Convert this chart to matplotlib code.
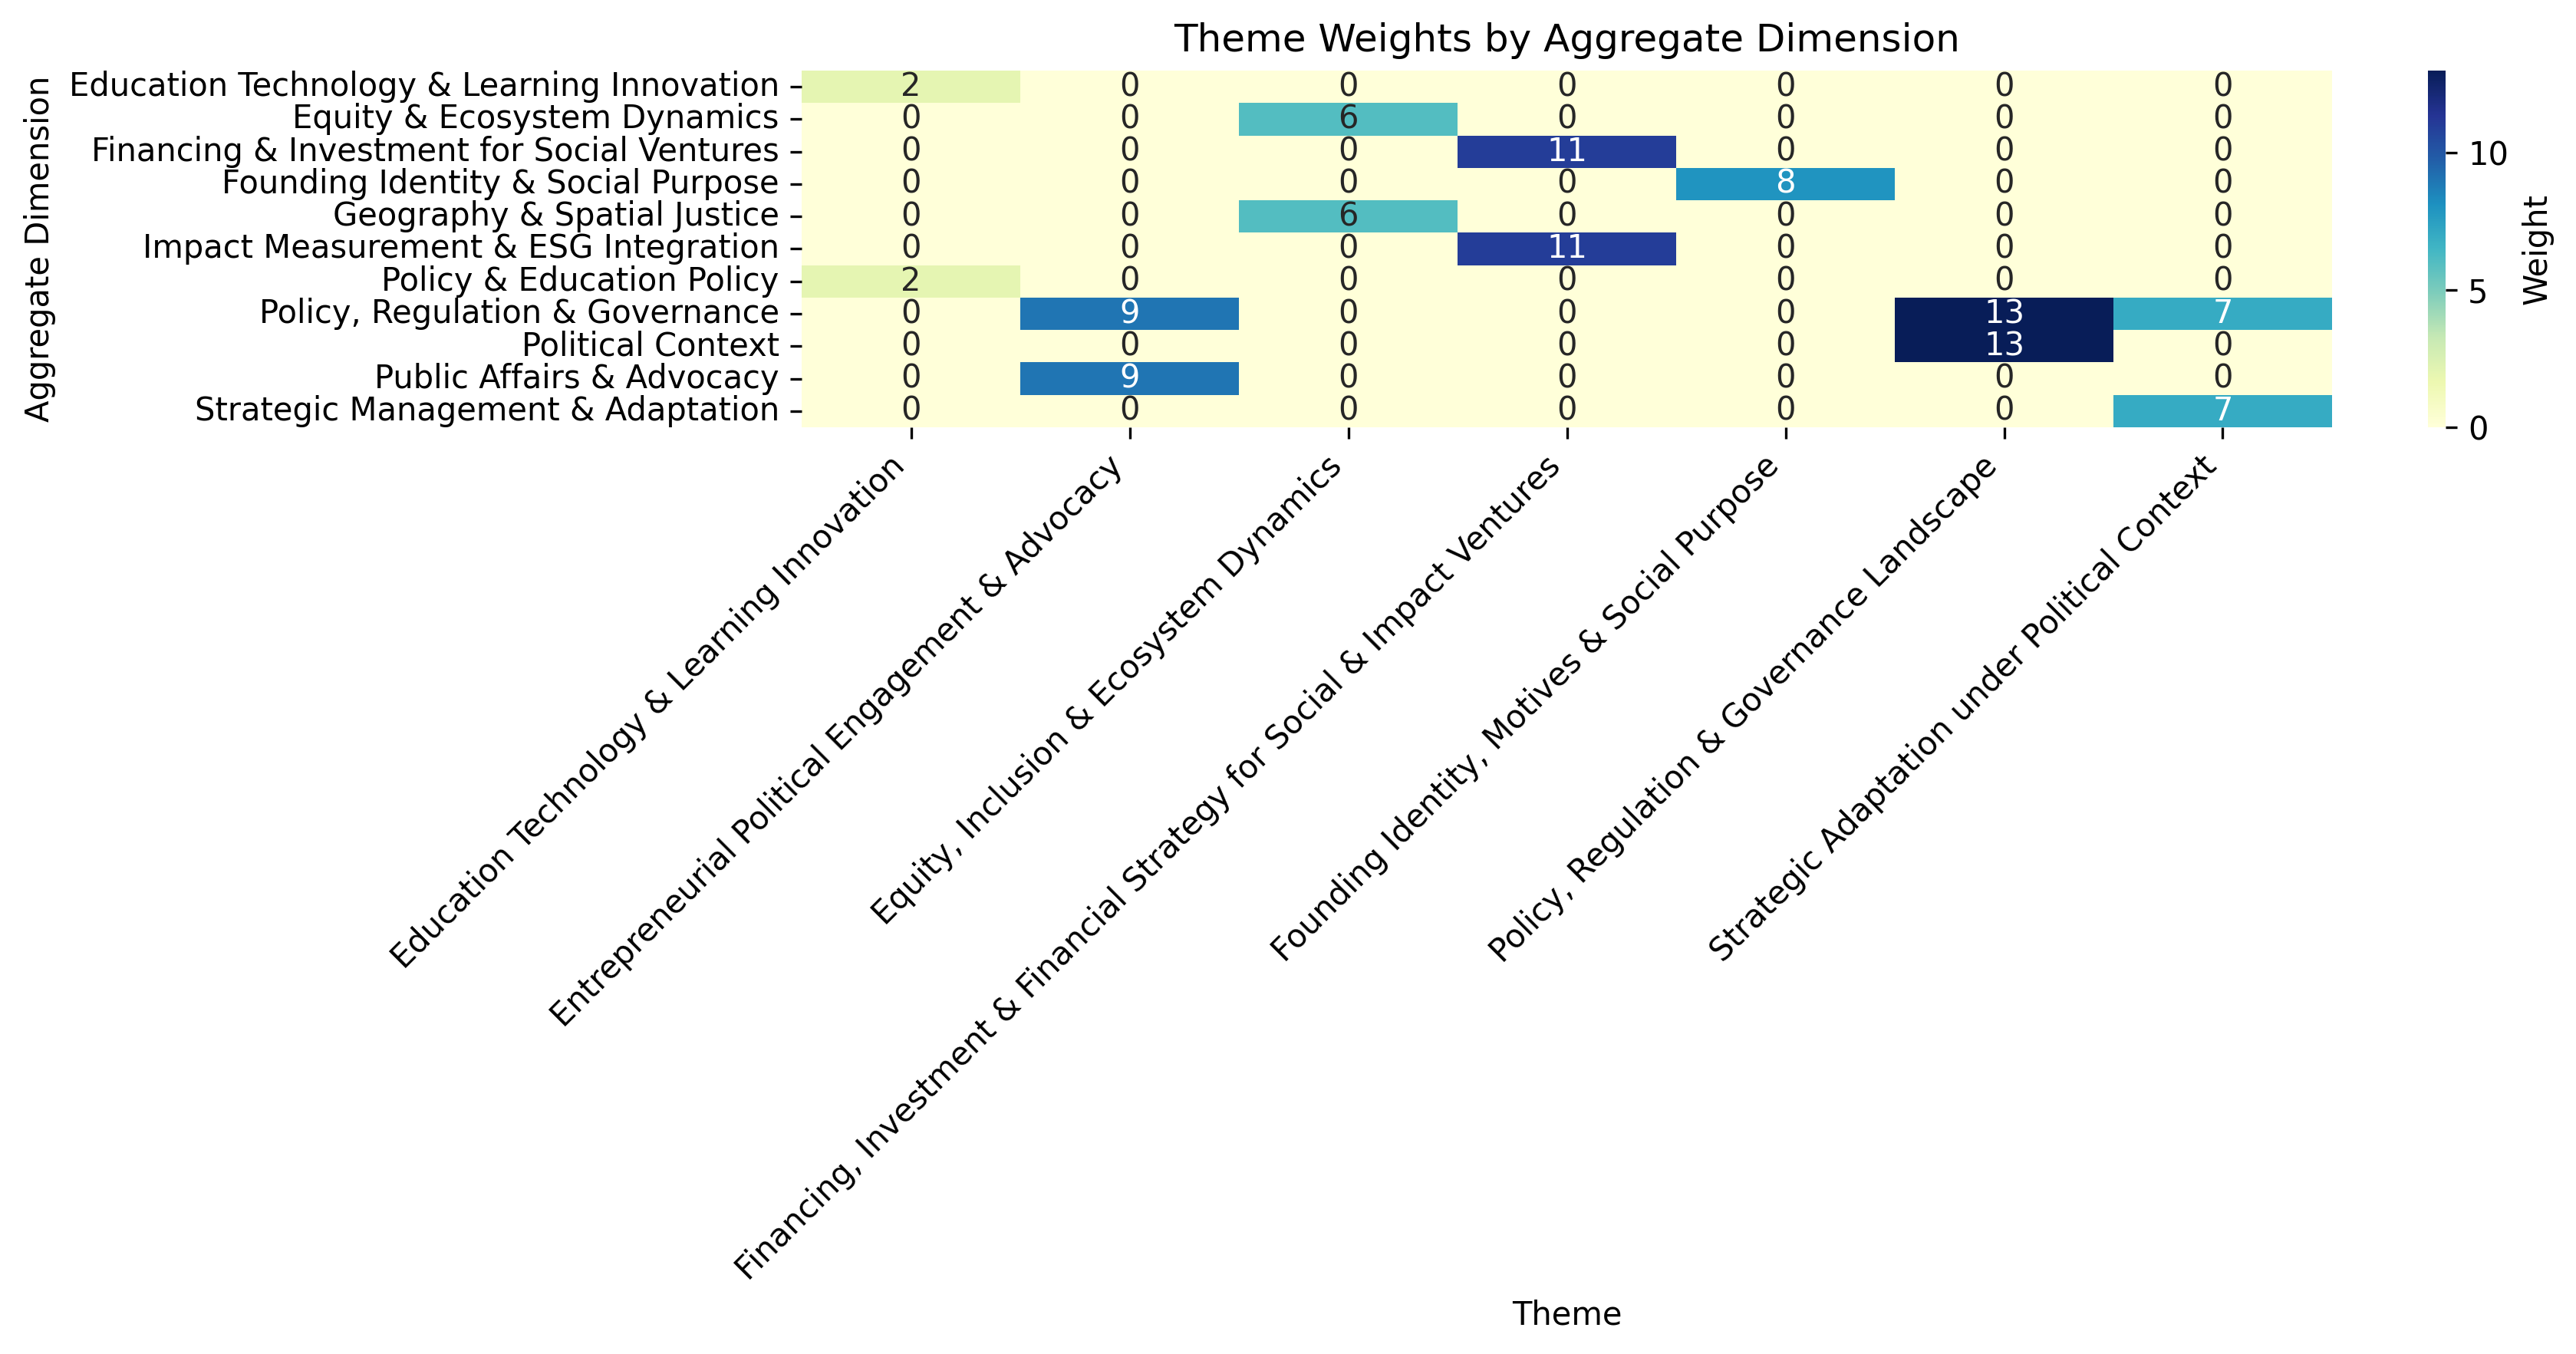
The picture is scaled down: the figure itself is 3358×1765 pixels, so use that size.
import matplotlib
matplotlib.use('Agg')
import matplotlib.pyplot as plt
import seaborn as sns
import numpy as np
import pandas as pd

dimensions = [
    'Education Technology & Learning Innovation',
    'Equity & Ecosystem Dynamics',
    'Financing & Investment for Social Ventures',
    'Founding Identity & Social Purpose',
    'Geography & Spatial Justice',
    'Impact Measurement & ESG Integration',
    'Policy & Education Policy',
    'Policy, Regulation & Governance',
    'Political Context',
    'Public Affairs & Advocacy',
    'Strategic Management & Adaptation',
]
themes = [
    'Education Technology & Learning Innovation',
    'Entrepreneurial Political Engagement & Advocacy',
    'Equity, Inclusion & Ecosystem Dynamics',
    'Financing, Investment & Financial Strategy for Social & Impact Ventures',
    'Founding Identity, Motives & Social Purpose',
    'Policy, Regulation & Governance Landscape',
    'Strategic Adaptation under Political Context',
]
# weights per dimension row, one value per theme column
weights = [
    [2, 0, 0, 0, 0, 0, 0],
    [0, 0, 6, 0, 0, 0, 0],
    [0, 0, 0, 11, 0, 0, 0],
    [0, 0, 0, 0, 8, 0, 0],
    [0, 0, 6, 0, 0, 0, 0],
    [0, 0, 0, 11, 0, 0, 0],
    [2, 0, 0, 0, 0, 0, 0],
    [0, 9, 0, 0, 0, 13, 7],
    [0, 0, 0, 0, 0, 13, 0],
    [0, 9, 0, 0, 0, 0, 0],
    [0, 0, 0, 0, 0, 0, 7],
]

df = pd.DataFrame(weights, index=dimensions, columns=themes)

fig = plt.figure(figsize=(3358 / 300, 1765 / 300), dpi=300)
ax = fig.add_axes([0.3112, 0.6844, 0.5941, 0.2635])
cax = fig.add_axes([0.9425, 0.6844, 0.00685, 0.2635])

sns.heatmap(df, annot=True, fmt='d', cmap='YlGnBu', ax=ax, cbar_ax=cax,
            xticklabels=True, yticklabels=True,
            cbar_kws={'label': 'Weight'})
ax.set_title('Theme Weights by Aggregate Dimension')
ax.set_xlabel('Theme')
ax.set_ylabel('Aggregate Dimension')
plt.setp(ax.get_xticklabels(), rotation=45, ha='right')
plt.setp(ax.get_yticklabels(), rotation=0)

fig.savefig('out.png', dpi=300, facecolor='white')
